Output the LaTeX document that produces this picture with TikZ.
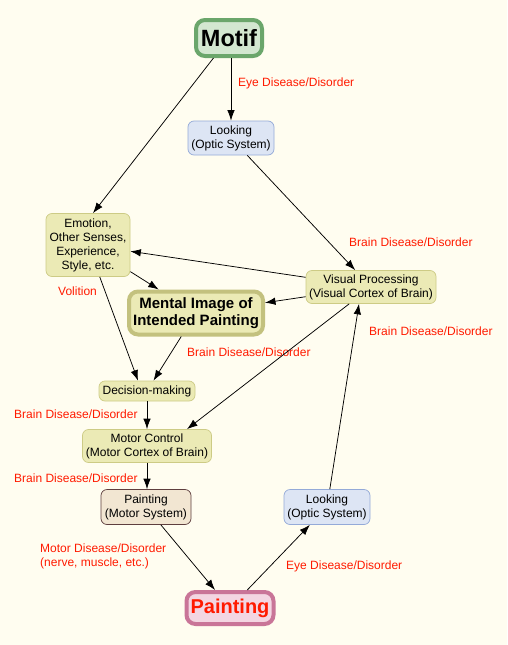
\documentclass[tikz,border=0pt]{standalone}
\usepackage{fontspec}
\setmainfont{Liberation Sans}
\usetikzlibrary{arrows.meta}

\definecolor{paper}{HTML}{FFFDF0}
\definecolor{greenF}{HTML}{D3E7D0}
\definecolor{greenD}{HTML}{6BA66B}
\definecolor{blueF}{HTML}{DDE5F4}
\definecolor{blueD}{HTML}{94AAD8}
\definecolor{yelF}{HTML}{EBEAB5}
\definecolor{yelD}{HTML}{CDCB85}
\definecolor{tanF}{HTML}{F2E6D2}
\definecolor{tanD}{HTML}{5E3E3E}
\definecolor{pinkF}{HTML}{F3D6E2}
\definecolor{pinkD}{HTML}{C97598}
\definecolor{labred}{HTML}{FF1A00}

\begin{document}
\begin{tikzpicture}[x=1pt,y=-1pt]

\tikzset{
  BoxStyle/.style = { rectangle, rounded corners=6pt, draw, align=center,
                      inner sep=0pt, line width=0.7pt,
                      font = \fontsize{12}{14}\selectfont },
  BlueBox/.style = { BoxStyle, fill=blueF, draw=blueD },
  YelBox/.style  = { BoxStyle, fill=yelF, draw=yelD },
  TanBox/.style  = { BoxStyle, fill=tanF, draw=tanD },
  BigBox/.style  = { BoxStyle, line width=4pt, rounded corners=9pt },
  LabelStyle/.style = { text=labred, anchor=west, inner sep=0pt, align=left,
                        font = \fontsize{12}{14}\selectfont },
  EdgeStyle/.style = { -{Latex[length=10.5pt,width=7.5pt]}, line width=0.75pt } }

  \fill[paper] (0,0) rectangle (507,645);
  \useasboundingbox (0,0) rectangle (507,645);

  % boxes
  \node[BigBox, fill=greenF, draw=greenD, minimum width=66pt, minimum height=36pt,
        font=\fontsize{23.5}{26}\bfseries] (mo) at (229,38) {Motif};
  \node[BlueBox, minimum width=86pt, minimum height=34pt] (lk1) at (231,138)
       {Looking\\(Optic System)};
  \node[YelBox, minimum width=84pt, minimum height=63pt] (em) at (88,245)
       {Emotion,\\Other Senses,\\Experience,\\Style, etc.};
  \node[BigBox, fill=yelF, draw=yelD!95!black, minimum width=134pt, minimum height=43pt,
        font=\fontsize{15}{17}\bfseries] (mi) at (196,313)
       {Mental Image of\\Intended Painting};
  \node[YelBox, minimum width=130pt, minimum height=33pt] (vp) at (371,287)
       {Visual Processing\\(Visual Cortex of Brain)};
  \node[YelBox, minimum width=96pt, minimum height=20pt] (dm) at (147,391)
       {Decision-making};
  \node[YelBox, minimum width=129pt, minimum height=33pt] (mc) at (147,446)
       {Motor Control\\(Motor Cortex of Brain)};
  \node[TanBox, minimum width=90pt, minimum height=35pt] (pm) at (146,507)
       {Painting\\(Motor System)};
  \node[BlueBox, minimum width=86pt, minimum height=35pt] (lk2) at (327,507)
       {Looking\\(Optic System)};
  \node[BigBox, fill=pinkF, draw=pinkD, minimum width=87pt, minimum height=32pt,
        text=labred, font=\fontsize{20}{23}\bfseries] (pt) at (230,608) {Painting};

  % red labels
  \node[LabelStyle] (eye1) at (238,83) {Eye Disease/Disorder};
  \node[LabelStyle] (br1) at (349,242) {Brain Disease/Disorder};
  \node[LabelStyle] (vol) at (58,291) {Volition};
  \node[LabelStyle] (br2) at (187,352) {Brain Disease/Disorder};
  \node[LabelStyle] (br3) at (369,331) {Brain Disease/Disorder};
  \node[LabelStyle] (br4) at (14,414) {Brain Disease/Disorder};
  \node[LabelStyle] (br5) at (14,478) {Brain Disease/Disorder};
  \node[LabelStyle] (mot) at (40,556) {Motor Disease/Disorder\\(nerve, muscle, etc.)};
  \node[LabelStyle] (eye2) at (286,566) {Eye Disease/Disorder};

  % connectors
  \draw[EdgeStyle] ([xshift=2pt]mo.south) -- (lk1.north);
  \draw[EdgeStyle] (mo) -- ([xshift=5pt]em.north);
  \draw[EdgeStyle] (lk1) -- (vp);
  \draw[EdgeStyle] (vp) -- (em);
  \draw[EdgeStyle] (vp) -- (mi);
  \draw[EdgeStyle] (em) -- (mi);
  \draw[EdgeStyle] (em) -- ([xshift=-9pt]dm.north);
  \draw[EdgeStyle] (mi) -- (dm);
  \draw[EdgeStyle] (vp) -- ([xshift=40pt]mc.north);
  \draw[EdgeStyle] (dm) -- (mc);
  \draw[EdgeStyle] (mc) -- (pm.north -| mc);
  \draw[EdgeStyle] (pm) -- (pt);
  \draw[EdgeStyle] (pt) -- (lk2);
  \draw[EdgeStyle] (lk2) -- ([xshift=-12pt]vp.south);

\end{tikzpicture}
\end{document}
